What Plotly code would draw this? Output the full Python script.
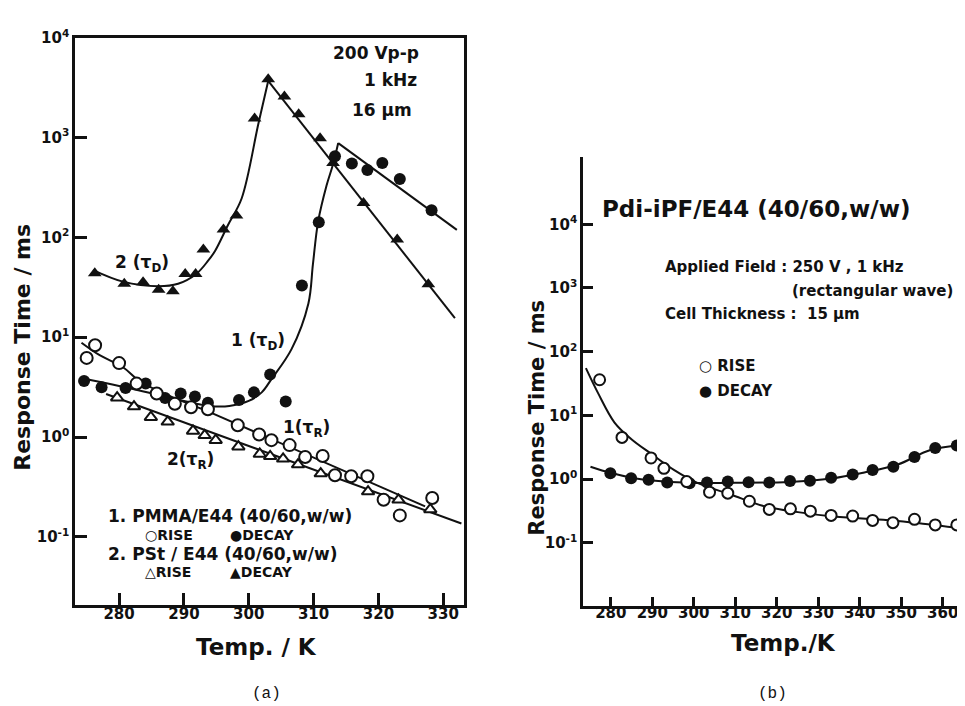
import plotly.graph_objects as go

# ---------------- Panel (a) data ----------------
a_pmma_rise_T = [275.0, 276.3, 280.0, 282.7, 285.8, 288.6, 291.1, 293.7, 298.3, 301.6,
                 303.5, 306.3, 308.7, 311.4, 313.3, 315.8, 318.3, 320.8, 323.3, 328.3]
a_pmma_rise_v = [6.2, 8.3, 5.5, 3.43, 2.73, 2.15, 1.99, 1.9, 1.31, 1.06,
                 0.93, 0.83, 0.63, 0.645, 0.414, 0.405, 0.405, 0.235, 0.164, 0.245]

a_pmma_decay_T = [274.6, 277.3, 281.0, 284.1, 287.1, 289.5, 291.7, 293.7, 298.5, 300.8,
                  303.3, 305.7, 308.2, 310.8, 313.3, 315.9, 318.3, 320.6, 323.3, 328.2]
a_pmma_decay_v = [3.65, 3.15, 3.1, 3.43, 2.46, 2.73, 2.54, 2.2, 2.35, 2.8,
                  4.24, 2.27, 33, 142, 650, 550, 473, 555, 384, 187]

a_pst_rise_T = [279.7, 282.3, 284.9, 287.5, 291.4, 293.2, 294.9, 298.4, 301.7, 303.3,
                305.3, 307.6, 311.1, 318.4, 323.1, 328.0]
a_pst_rise_v = [2.48, 2.02, 1.58, 1.42, 1.15, 1.04, 0.93, 0.80, 0.676, 0.64,
                0.605, 0.53, 0.43, 0.284, 0.235, 0.188]

a_pst_decay_T = [276.25, 280.8, 283.7, 286.1, 288.3, 290.2, 291.8, 293.0, 296.1, 298.1,
                 300.9, 303.0, 305.5, 307.7, 311.0, 313.0, 317.7, 322.9, 327.7]
a_pst_decay_v = [43.7, 34.3, 35.6, 29.9, 28.8, 43, 43, 75.7, 120, 166,
                 1550, 3830, 2570, 1710, 985, 555, 221, 95, 34]

# fitted curves (knots)
a_fit_1D_rise_T = [274.4, 280.0, 285.0, 290.0, 294.0, 297.0, 300.0, 302.0, 303.5, 306.6,
                   309.2, 309.9, 310.7, 312.0, 313.0, 313.8]
a_fit_1D_rise_v = [3.85, 3.25, 2.75, 2.3, 2.05, 2.05, 2.3, 2.8, 3.8, 7.6,
                   21.8, 54, 144, 330, 540, 880]
a_fit_1D_fall_T = [313.8, 332.1]
a_fit_1D_fall_v = [880, 119]

a_fit_2D_rise_T = [276.0, 280.6, 286.0, 289.1, 291.9, 293.7, 294.8, 296.8, 298.9, 301.5, 303.0]
a_fit_2D_rise_v = [47, 36, 32.4, 34.3, 43, 58, 73, 133, 245, 1390, 3690]
a_fit_2D_fall_T = [303.0, 331.8]
a_fit_2D_fall_v = [3690, 15.5]

a_fit_1R_curve_T = [274.2, 277.0, 280.6, 283.0, 286.0, 293.7]
a_fit_1R_curve_v = [8.8, 6.6, 5.0, 3.7, 2.9, 1.81]
a_fit_1R_line_T = [293.7, 327.2]
a_fit_1R_line_v = [1.81, 0.202]

a_fit_2R_T = [278.0, 332.8]
a_fit_2R_v = [2.7, 0.136]

a_x_ticks = [280, 290, 300, 310, 320, 330]
a_y_ticks = [0.1, 1, 10, 100, 1000, 10000]
a_y_ticktext = ["10<sup>-1</sup>", "10<sup>0</sup>", "10<sup>1</sup>",
                "10<sup>2</sup>", "10<sup>3</sup>", "10<sup>4</sup>"]

# ---------------- Panel (b) data ----------------
b_rise_T = [277.3, 282.7, 289.7, 292.8, 298.3, 303.8, 308.2, 313.4, 318.2, 323.3,
            328.1, 333.1, 338.3, 343.1, 348.0, 353.2, 358.2, 363.4]
b_rise_v = [36.2, 4.5, 2.14, 1.47, 0.91, 0.62, 0.60, 0.447, 0.333, 0.34,
            0.313, 0.268, 0.262, 0.224, 0.206, 0.233, 0.19, 0.19]

b_decay_T = [279.9, 284.9, 289.1, 293.6, 299.0, 303.2, 308.2, 313.2, 318.2, 323.2,
             328.0, 333.1, 338.3, 343.1, 348.1, 353.2, 358.2, 363.4]
b_decay_v = [1.23, 1.03, 0.97, 0.88, 0.86, 0.88, 0.91, 0.89, 0.88, 0.93,
             0.94, 1.05, 1.18, 1.38, 1.56, 2.22, 3.06, 3.37]

b_fit_rise_T = [274.0, 276.9, 280.9, 284.9, 289.7, 295.3, 301.0, 308.9, 317.0, 325.1,
                333.1, 349.2, 366.0]
b_fit_rise_v = [55, 22.5, 7.7, 4.26, 2.5, 1.38, 0.86, 0.57, 0.374, 0.302,
                0.26, 0.219, 0.163]
b_fit_decay_T = [275.1, 279.9, 285.0, 290.0, 299.0, 310.0, 323.0, 333.1, 341.1, 349.2,
                 357.2, 366.0]
b_fit_decay_v = [1.56, 1.25, 1.05, 0.95, 0.87, 0.87, 0.9, 1.02, 1.27, 1.69,
                 2.88, 3.49]

b_x_ticks = [280, 290, 300, 310, 320, 330, 340, 350, 360]
b_y_ticks = [0.1, 1, 10, 100, 1000, 10000]
b_y_ticktext = a_y_ticktext

# ---------------- figure ----------------
W, H = 965, 706
FONT = "DejaVu Sans"
MONO = "Liberation Mono"
BLACK = "#111111"


def px(x, y):
    return x / W, 1 - y / H


fig = go.Figure()


def line(T, v, xa, ya, shape="linear"):
    fig.add_trace(go.Scatter(x=T, y=v, mode="lines", xaxis=xa, yaxis=ya,
                             line=dict(color=BLACK, width=2, shape=shape, smoothing=1.0),
                             showlegend=False, hoverinfo="skip"))


def pts(T, v, xa, ya, symbol, filled, size=12):
    fig.add_trace(go.Scatter(
        x=T, y=v, mode="markers", xaxis=xa, yaxis=ya, showlegend=False,
        marker=dict(symbol=symbol, size=size,
                    color=BLACK if filled else "white",
                    line=dict(color=BLACK, width=0 if filled else 2))))


# panel (a) lines
line(a_fit_1D_rise_T, a_fit_1D_rise_v, "x", "y", "spline")
line(a_fit_1D_fall_T, a_fit_1D_fall_v, "x", "y")
line(a_fit_2D_rise_T, a_fit_2D_rise_v, "x", "y", "spline")
line(a_fit_2D_fall_T, a_fit_2D_fall_v, "x", "y")
line(a_fit_1R_curve_T, a_fit_1R_curve_v, "x", "y", "spline")
line(a_fit_1R_line_T, a_fit_1R_line_v, "x", "y")
line(a_fit_2R_T, a_fit_2R_v, "x", "y")
# panel (a) markers
pts(a_pst_rise_T, a_pst_rise_v, "x", "y", "triangle-up", False, 11)
pts(a_pst_decay_T, a_pst_decay_v, "x", "y", "triangle-up", True, 12)
pts(a_pmma_decay_T, a_pmma_decay_v, "x", "y", "circle", True, 12)
pts(a_pmma_rise_T, a_pmma_rise_v, "x", "y", "circle", False, 12)

# panel (b)
line(b_fit_rise_T, b_fit_rise_v, "x2", "y2", "spline")
line(b_fit_decay_T, b_fit_decay_v, "x2", "y2", "spline")
pts(b_decay_T, b_decay_v, "x2", "y2", "circle", True, 12)
pts(b_rise_T, b_rise_v, "x2", "y2", "circle", False, 11)

tickfont = dict(family=FONT, size=15, color=BLACK, weight="bold")
axis_common = dict(showgrid=False, zeroline=False, showline=True, linecolor=BLACK,
                   linewidth=2.5, ticks="inside", tickcolor=BLACK, tickwidth=2.5,
                   tickfont=tickfont)

xa0, _ = px(67, 0)
xa1, _ = px(456, 0)
_, ya0 = px(0, 595)
_, ya1 = px(0, 19)
xb0, _ = px(575, 0)
_, yb0 = px(0, 596)
_, yb1 = px(0, 140)

fig.update_layout(
    width=W, height=H, margin=dict(l=0, r=0, t=0, b=0),
    paper_bgcolor="white", plot_bgcolor="white",
    font=dict(family=FONT, color=BLACK),
    xaxis=dict(domain=[xa0, xa1], anchor="y", range=[273.2, 333.2],
               tickvals=a_x_ticks, ticklen=12, mirror=True, ticklabelstandoff=-6,
               **axis_common),
    yaxis=dict(domain=[ya0, ya1], anchor="x", type="log", range=[-1.68, 4.0],
               tickvals=a_y_ticks, ticktext=a_y_ticktext, ticklen=12, mirror=True,
               **axis_common),
    xaxis2=dict(domain=[xb0, 1.0], anchor="y2", range=[273.3, 367.3],
                tickvals=b_x_ticks, ticklen=9, ticklabelstandoff=-8, **axis_common),
    yaxis2=dict(domain=[yb0, yb1], anchor="x2", type="log", range=[-1.99, 5.06],
                tickvals=b_y_ticks, ticktext=b_y_ticktext, ticklen=10, **axis_common),
)

ann = []


def text(t, x, y, size, xanchor="center", angle=0, family=FONT, bold=True):
    X, Y = px(x, y)
    ann.append(dict(text=t, x=X, y=Y, xref="paper", yref="paper", showarrow=False,
                    xanchor=xanchor, yanchor="middle", textangle=angle,
                    borderpad=0,
                    font=dict(family=family, size=size, color=BLACK,
                              weight="bold" if bold else "normal")))


# panel (a) texts
text("200 Vp-p", 412, 35, 17, "right")
text("1 kHz", 410, 62, 17, "right")
text("16 μm", 405, 92, 17, "right")
text("2 (τ<sub>D</sub>)", 134, 248, 17)
text("1 (τ<sub>D</sub>)", 250, 328, 17)
text("1(τ<sub>R</sub>)", 298, 416, 17)
text("2(τ<sub>R</sub>)", 182, 448, 17)
text("1. PMMA/E44 (40/60,w/w)", 99, 505, 17, "left")
text("○RISE", 136, 524, 14, "left")
text("●DECAY", 221, 524, 14, "left")
text("2. PSt / E44 (40/60,w/w)", 99, 543, 17, "left")
text("△RISE", 136, 562, 14, "left")
text("▲DECAY", 221, 562, 14, "left")
text("Temp. / K", 248, 638, 23)
text("Response Time / ms", 15, 334, 22, angle=-90)
text("(a)", 258, 686, 16, family=MONO, bold=False)

# panel (b) texts
text("Pdi-iPF/E44 (40/60,w/w)", 593, 193, 23, "left")
text("Applied Field : 250 V , 1 kHz", 656, 252, 15, "left")
text("(rectangular wave)", 946, 276, 15, "right")
text("Cell Thickness :  15 μm", 656, 300, 15, "left")
text("○ RISE", 690, 352, 15, "left")
text("● DECAY", 690, 378, 15, "left")
text("Temp./K", 775, 634, 23)
text("Response Time / ms", 529, 405, 21, angle=-90)
text("(b)", 764, 686, 16, family=MONO, bold=False)

fig.update_layout(annotations=ann)
fig.write_html("out.html")
